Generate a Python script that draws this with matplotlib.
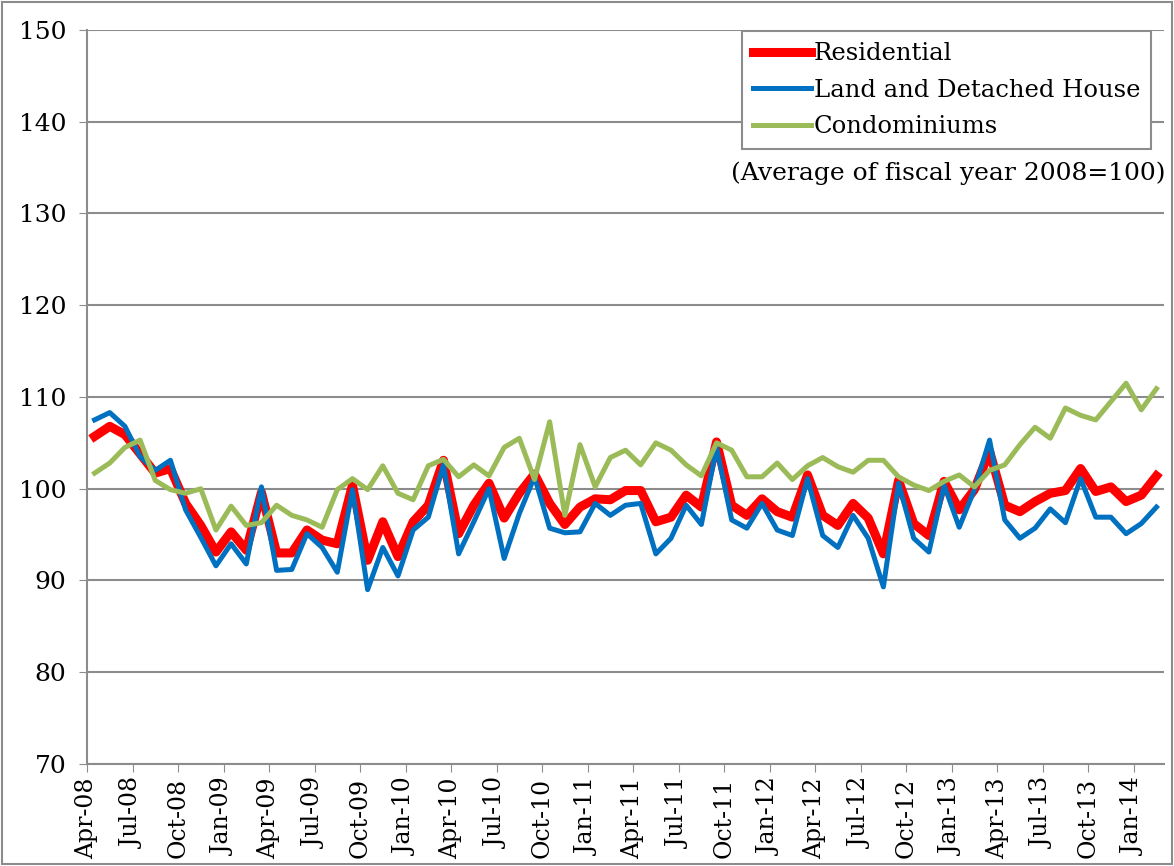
import numpy as np
import matplotlib
matplotlib.use("Agg")
import matplotlib.pyplot as plt
import matplotlib.transforms as mtransforms
from matplotlib.patches import Rectangle

# monthly index, Apr-08 .. Feb-14 (average of fiscal year 2008 = 100)
residential = [105.7, 106.8, 105.9, 103.8, 101.7, 102.2, 98.4, 96.0, 93.1, 95.3,
               93.3, 99.6, 93.0, 93.0, 95.5, 94.4, 94.0, 100.4, 92.2, 96.4,
               92.6, 96.4, 98.2, 103.1, 95.1, 98.2, 100.6, 96.8, 99.5, 101.6,
               98.4, 96.1, 98.0, 98.9, 98.8, 99.8, 99.8, 96.4, 96.9, 99.3,
               98.0, 105.1, 98.2, 97.1, 98.9, 97.5, 96.9, 101.5, 97.1, 96.0,
               98.4, 96.8, 92.9, 100.9, 96.2, 94.9, 100.8, 97.7, 99.9, 104.1,
               98.2, 97.5, 98.6, 99.5, 99.8, 102.2, 99.7, 100.2, 98.6, 99.3,
               101.4]
land_house = [107.5, 108.3, 106.8, 103.5, 102.0, 103.1, 97.7, 94.7, 91.6, 94.0,
              91.8, 100.2, 91.1, 91.2, 95.1, 93.6, 90.9, 99.9, 89.0, 93.6,
              90.5, 95.5, 96.9, 102.6, 92.9, 96.4, 100.0, 92.4, 97.3, 101.3,
              95.7, 95.2, 95.3, 98.4, 97.1, 98.2, 98.4, 92.9, 94.6, 98.2,
              96.1, 104.5, 96.6, 95.7, 98.4, 95.5, 94.9, 101.1, 94.9, 93.6,
              97.1, 94.6, 89.3, 100.6, 94.6, 93.1, 100.4, 95.8, 99.9, 105.3,
              96.6, 94.6, 95.7, 97.8, 96.3, 101.1, 96.9, 96.9, 95.1, 96.2,
              98.0]
condos = [101.7, 102.8, 104.5, 105.3, 100.9, 99.9, 99.5, 100.0, 95.5, 98.1,
          96.0, 96.3, 98.2, 97.1, 96.6, 95.8, 99.9, 101.1, 99.9, 102.5,
          99.5, 98.8, 102.5, 103.2, 101.3, 102.6, 101.4, 104.5, 105.5, 101.0,
          107.3, 97.1, 104.8, 100.2, 103.4, 104.2, 102.6, 105.0, 104.2, 102.6,
          101.4, 105.0, 104.2, 101.3, 101.3, 102.8, 101.0, 102.5, 103.4, 102.4,
          101.8, 103.1, 103.1, 101.3, 100.4, 99.8, 100.8, 101.5, 100.2, 102.0,
          102.6, 104.8, 106.7, 105.5, 108.8, 108.0, 107.5, 109.5, 111.5, 108.6,
          110.9]
tick_labels = ["Apr-08", "Jul-08", "Oct-08", "Jan-09", "Apr-09", "Jul-09", "Oct-09", "Jan-10",
               "Apr-10", "Jul-10", "Oct-10", "Jan-11", "Apr-11", "Jul-11", "Oct-11", "Jan-12",
               "Apr-12", "Jul-12", "Oct-12", "Jan-13", "Apr-13", "Jul-13", "Oct-13", "Jan-14"]

plt.rcParams["font.family"] = ["DejaVu Serif"]
grid_col = "#8c8c8c"

fig = plt.figure(figsize=(11.74, 8.66), dpi=100)
ax = fig.add_axes([0.0741, 0.1178, 0.9174, 0.8476])

x = np.arange(len(residential))
ax.plot(x, residential, color="#ff0000", lw=6.5, solid_joinstyle="round", label="Residential", zorder=3)
ax.plot(x, land_house, color="#0070c0", lw=3.6, label="Land and Detached House", zorder=4)
ax.plot(x, condos, color="#9bbb59", lw=3.6, label="Condominiums", zorder=5)

ax.set_xlim(-0.5, len(residential) - 0.5)
ax.set_ylim(70, 150)
ax.set_yticks(np.arange(70, 151, 10))
ax.set_xticks(np.arange(-0.5, len(residential) - 0.5, 3))
ax.set_xticklabels(tick_labels, rotation=90, fontsize=17)
shift = mtransforms.ScaledTranslation(6 / 100, 0, fig.dpi_scale_trans)
for lab in ax.get_xticklabels():
    lab.set_transform(lab.get_transform() + shift)
ax.tick_params(axis="y", labelsize=18, length=6, color=grid_col, pad=9)
ax.tick_params(axis="x", length=6, color=grid_col, pad=4)

ax.grid(axis="y", color=grid_col, lw=1.5)
ax.set_axisbelow(True)
for s in ["top", "right"]:
    ax.spines[s].set_visible(False)
for s in ["left", "bottom"]:
    ax.spines[s].set_color(grid_col)
    ax.spines[s].set_linewidth(1.5)

leg = ax.legend(loc="upper left", bbox_to_anchor=(0.608, 0.998), fontsize=17.5,
                handlelength=2.4, handletextpad=0.1, labelspacing=0.55,
                borderpad=0.45, borderaxespad=0, fancybox=False, framealpha=1)
leg.get_frame().set_edgecolor(grid_col)
leg.get_frame().set_linewidth(1.5)

ax.text(1.001, 0.805, "(Average of fiscal year 2008=100)", transform=ax.transAxes,
        ha="right", va="center", fontsize=18)

fig.patches.append(Rectangle((0.002, 0.002), 0.996, 0.996, transform=fig.transFigure,
                             fill=False, edgecolor=grid_col, lw=1.5))

fig.savefig("out.png", dpi=100)
